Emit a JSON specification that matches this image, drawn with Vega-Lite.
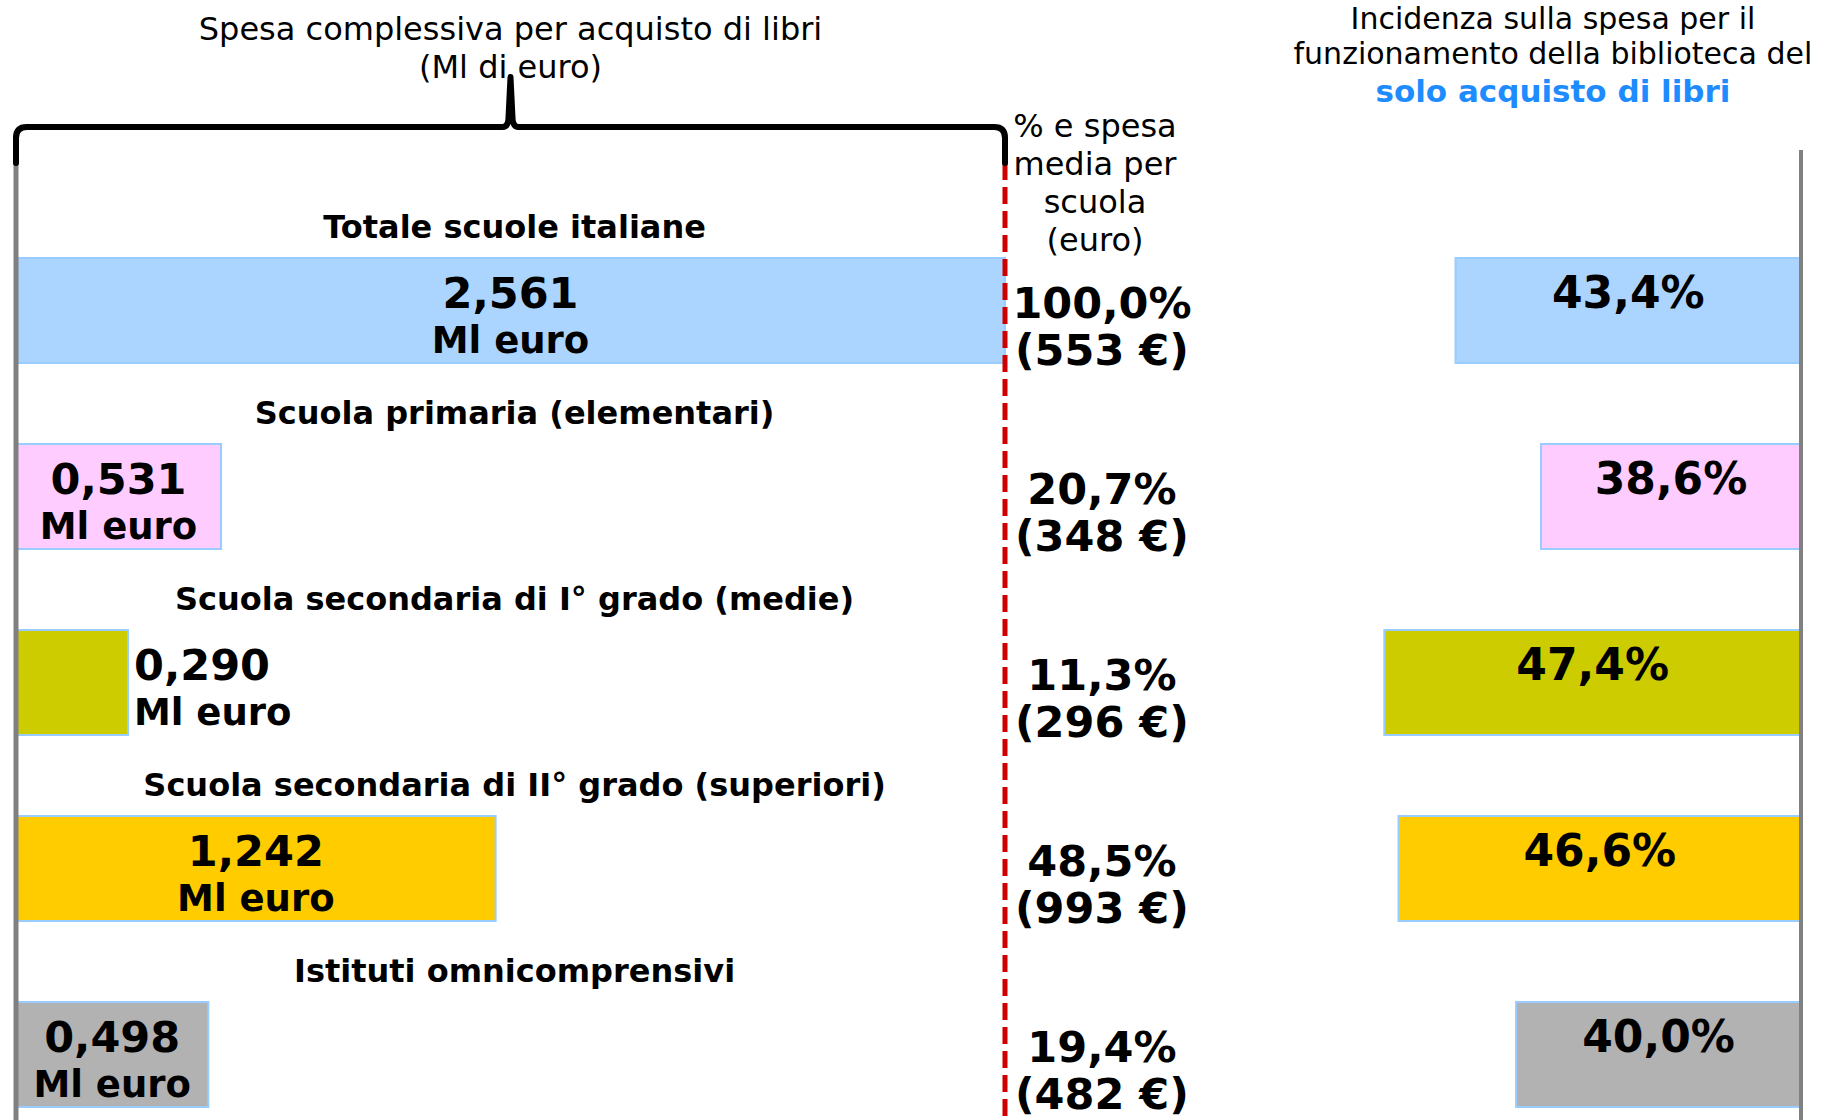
{
  "$schema": "https://vega.github.io/schema/vega-lite/v6.json",
  "width": 1827,
  "height": 1120,
  "autosize": {"type": "none"},
  "padding": 0,
  "background": "#ffffff",
  "config": {"view": {"stroke": null}, "font": "DejaVu Sans"},
  "datasets": {
    "scuole": [
      {"tipo": "Totale scuole italiane", "spesa": 2.561, "spesa_testo": "2,561", "quota": "100,0%", "media": "(553 €)", "incidenza": 43.4, "incidenza_testo": "43,4%"},
      {"tipo": "Scuola primaria (elementari)", "spesa": 0.531, "spesa_testo": "0,531", "quota": "20,7%", "media": "(348 €)", "incidenza": 38.6, "incidenza_testo": "38,6%"},
      {"tipo": "Scuola secondaria di I° grado (medie)", "spesa": 0.290, "spesa_testo": "0,290", "quota": "11,3%", "media": "(296 €)", "incidenza": 47.4, "incidenza_testo": "47,4%"},
      {"tipo": "Scuola secondaria di II° grado (superiori)", "spesa": 1.242, "spesa_testo": "1,242", "quota": "48,5%", "media": "(993 €)", "incidenza": 46.6, "incidenza_testo": "46,6%"},
      {"tipo": "Istituti omnicomprensivi", "spesa": 0.498, "spesa_testo": "0,498", "quota": "19,4%", "media": "(482 €)", "incidenza": 40.0, "incidenza_testo": "40,0%"}
    ]
  },
  "resolve": {"scale": {"x": "independent"}},
  "layer": [
    {
      "data": {"name": "scuole"},
      "resolve": {"scale": {"x": "independent"}},
      "layer": [
        {
          "mark": {"type": "bar", "stroke": "#99CCFF", "strokeWidth": 2},
          "encoding": {
            "y": {"field": "tipo", "type": "nominal", "sort": null, "axis": null,
              "scale": {"domain": ["Totale scuole italiane", "Scuola primaria (elementari)", "Scuola secondaria di I° grado (medie)", "Scuola secondaria di II° grado (superiori)", "Istituti omnicomprensivi"],
                "range": [258, 1107], "paddingInner": 0.435, "paddingOuter": 0}},
            "x": {"field": "spesa", "type": "quantitative", "axis": null, "scale": {"domain": [0, 2.561], "range": [16, 1005]}},
            "color": {"field": "tipo", "type": "nominal", "legend": null,
              "scale": {"domain": ["Totale scuole italiane", "Scuola primaria (elementari)", "Scuola secondaria di I° grado (medie)", "Scuola secondaria di II° grado (superiori)", "Istituti omnicomprensivi"],
                "range": ["#ABD5FF", "#FFCCFF", "#CCCC00", "#FFCC00", "#B2B2B2"]}}
          }
        },
        {
          "mark": {"type": "bar", "stroke": "#99CCFF", "strokeWidth": 2},
          "encoding": {
            "y": {"field": "tipo", "type": "nominal", "sort": null, "axis": null},
            "x": {"field": "incidenza", "type": "quantitative", "axis": null, "scale": {"domain": [24, 50], "range": [1801, 1338], "zero": false}},
            "x2": {"datum": 24},
            "color": {"field": "tipo", "type": "nominal", "legend": null}
          }
        },
        {
          "mark": {"type": "text", "fontSize": 32, "fontWeight": "bold", "align": "center", "baseline": "middle", "color": "#000000"},
          "encoding": {
            "y": {"field": "tipo", "type": "nominal", "bandPosition": -0.286},
            "x": {"datum": 1.291, "type": "quantitative", "axis": null, "scale": {"domain": [0, 2.561], "range": [16, 1005]}},
            "text": {"field": "tipo", "type": "nominal"}
          }
        },
        {
          "transform": [{"filter": {"not": {"field": "tipo", "equal": "Scuola secondaria di I° grado (medie)"}}}],
          "mark": {"type": "text", "fontSize": 43, "fontWeight": "bold", "align": "center", "baseline": "middle", "color": "#000000"},
          "encoding": {
            "y": {"field": "tipo", "type": "nominal", "bandPosition": 0.352},
            "x": {"field": "spesa", "type": "quantitative", "axis": null, "scale": {"domain": [0, 5.122], "range": [16, 1005]}},
            "text": {"field": "spesa_testo", "type": "nominal"}
          }
        },
        {
          "transform": [{"filter": {"not": {"field": "tipo", "equal": "Scuola secondaria di I° grado (medie)"}}}],
          "mark": {"type": "text", "text": "Ml euro", "fontSize": 37, "fontWeight": "bold", "align": "center", "baseline": "middle", "color": "#000000"},
          "encoding": {
            "y": {"field": "tipo", "type": "nominal", "bandPosition": 0.804},
            "x": {"field": "spesa", "type": "quantitative", "axis": null, "scale": {"domain": [0, 5.122], "range": [16, 1005]}}
          }
        },
        {
          "transform": [{"filter": {"field": "tipo", "equal": "Scuola secondaria di I° grado (medie)"}}],
          "mark": {"type": "text", "fontSize": 43, "fontWeight": "bold", "align": "left", "baseline": "middle", "dx": 6, "color": "#000000"},
          "encoding": {
            "y": {"field": "tipo", "type": "nominal", "bandPosition": 0.352},
            "x": {"field": "spesa", "type": "quantitative", "axis": null, "scale": {"domain": [0, 2.561], "range": [16, 1005]}},
            "text": {"field": "spesa_testo", "type": "nominal"}
          }
        },
        {
          "transform": [{"filter": {"field": "tipo", "equal": "Scuola secondaria di I° grado (medie)"}}],
          "mark": {"type": "text", "text": "Ml euro", "fontSize": 37, "fontWeight": "bold", "align": "left", "baseline": "middle", "dx": 6, "color": "#000000"},
          "encoding": {
            "y": {"field": "tipo", "type": "nominal", "bandPosition": 0.804},
            "x": {"field": "spesa", "type": "quantitative", "axis": null, "scale": {"domain": [0, 2.561], "range": [16, 1005]}}
          }
        },
        {
          "mark": {"type": "text", "fontSize": 43, "fontWeight": "bold", "align": "center", "baseline": "middle", "color": "#000000"},
          "encoding": {
            "y": {"field": "tipo", "type": "nominal", "bandPosition": 0.45},
            "x": {"datum": 2.812, "type": "quantitative", "axis": null, "scale": {"domain": [0, 2.561], "range": [16, 1005]}},
            "text": {"field": "quota", "type": "nominal"}
          }
        },
        {
          "mark": {"type": "text", "fontSize": 43, "fontWeight": "bold", "align": "center", "baseline": "middle", "color": "#000000"},
          "encoding": {
            "y": {"field": "tipo", "type": "nominal", "bandPosition": 0.895},
            "x": {"datum": 2.812, "type": "quantitative", "axis": null, "scale": {"domain": [0, 2.561], "range": [16, 1005]}},
            "text": {"field": "media", "type": "nominal"}
          }
        },
        {
          "mark": {"type": "text", "fontSize": 44, "fontWeight": "bold", "align": "center", "baseline": "middle", "color": "#000000"},
          "encoding": {
            "y": {"field": "tipo", "type": "nominal", "bandPosition": 0.352},
            "x": {"field": "incidenza", "type": "quantitative", "axis": null, "scale": {"domain": [24, 50], "range": [1801, 1569.5], "zero": false}},
            "text": {"field": "incidenza_testo", "type": "nominal"}
          }
        }
      ]
    },
    {
      "data": {"values": [{
        "titolo_spesa": "Spesa complessiva per acquisto di libri\n(Ml di euro)",
        "titolo_media": "% e spesa\nmedia per\nscuola\n(euro)",
        "titolo_incidenza": "Incidenza sulla spesa per il\nfunzionamento della biblioteca del",
        "titolo_evidenza": "solo acquisto di libri"
      }]},
      "resolve": {"scale": {"x": "independent"}},
      "layer": [
        {
          "mark": {"type": "rule", "color": "#808080", "strokeWidth": 5},
          "encoding": {
            "x": {"datum": 0, "type": "quantitative", "axis": null, "scale": {"domain": [0, 2.561], "range": [16, 1005]}},
            "y": {"datum": "Totale scuole italiane", "type": "nominal", "bandPosition": -0.904},
            "y2": {"datum": "Istituti omnicomprensivi", "bandPosition": 1.2}
          }
        },
        {
          "mark": {"type": "rule", "color": "#CC0000", "strokeWidth": 5, "strokeDash": [17, 7]},
          "encoding": {
            "x": {"datum": 2.561, "type": "quantitative", "axis": null, "scale": {"domain": [0, 2.561], "range": [16, 1005]}},
            "y": {"datum": "Totale scuole italiane", "type": "nominal", "bandPosition": -0.904},
            "y2": {"datum": "Istituti omnicomprensivi", "bandPosition": 1.2}
          }
        },
        {
          "mark": {"type": "rule", "color": "#808080", "strokeWidth": 4},
          "encoding": {
            "x": {"datum": 24, "type": "quantitative", "axis": null, "scale": {"domain": [24, 50], "range": [1801, 1338], "zero": false}},
            "y": {"datum": "Totale scuole italiane", "type": "nominal", "bandPosition": -1.028},
            "y2": {"datum": "Istituti omnicomprensivi", "bandPosition": 1.2}
          }
        },
        {
          "mark": {"type": "point", "shape": "M -1 0.0728 L -1 0.022 Q -1 0 -0.978 0 L -0.016 0 Q -0.004 0 -0.004 -0.02 L 0 -0.101 L 0.004 -0.02 Q 0.004 0 0.016 0 L 0.978 0 Q 1 0 1 0.022 L 1 0.0728",
            "size": 978121, "filled": false, "color": "#000000", "strokeWidth": 6, "opacity": 1, "strokeJoin": "round", "strokeCap": "round"},
          "encoding": {
            "x": {"datum": 1.2805, "type": "quantitative", "axis": null, "scale": {"domain": [0, 2.561], "range": [16, 1005]}},
            "y": {"datum": "Totale scuole italiane", "type": "nominal", "bandPosition": -1.2467}
          }
        },
        {
          "mark": {"type": "text", "fontSize": 32, "align": "center", "baseline": "alphabetic", "lineBreak": "\n", "lineHeight": 38, "color": "#000000"},
          "encoding": {
            "x": {"datum": 1.2805, "type": "quantitative", "axis": null, "scale": {"domain": [0, 2.561], "range": [16, 1005]}},
            "y": {"datum": "Totale scuole italiane", "type": "nominal", "bandPosition": -2.075},
            "text": {"field": "titolo_spesa", "type": "nominal"}
          }
        },
        {
          "mark": {"type": "text", "fontSize": 32, "align": "center", "baseline": "alphabetic", "lineBreak": "\n", "lineHeight": 38, "color": "#000000"},
          "encoding": {
            "x": {"datum": 2.794, "type": "quantitative", "axis": null, "scale": {"domain": [0, 2.561], "range": [16, 1005]}},
            "y": {"datum": "Totale scuole italiane", "type": "nominal", "bandPosition": -1.152},
            "text": {"field": "titolo_media", "type": "nominal"}
          }
        },
        {
          "mark": {"type": "text", "fontSize": 30, "align": "center", "baseline": "alphabetic", "lineBreak": "\n", "lineHeight": 35, "color": "#000000"},
          "encoding": {
            "x": {"datum": 37.93, "type": "quantitative", "axis": null, "scale": {"domain": [24, 50], "range": [1801, 1338], "zero": false}},
            "y": {"datum": "Totale scuole italiane", "type": "nominal", "bandPosition": -2.179},
            "text": {"field": "titolo_incidenza", "type": "nominal"}
          }
        },
        {
          "mark": {"type": "text", "fontSize": 31, "fontWeight": "bold", "align": "center", "baseline": "alphabetic", "color": "#1E8CFF"},
          "encoding": {
            "x": {"datum": 37.93, "type": "quantitative", "axis": null, "scale": {"domain": [24, 50], "range": [1801, 1338], "zero": false}},
            "y": {"datum": "Totale scuole italiane", "type": "nominal", "bandPosition": -1.485},
            "text": {"field": "titolo_evidenza", "type": "nominal"}
          }
        }
      ]
    }
  ]
}
